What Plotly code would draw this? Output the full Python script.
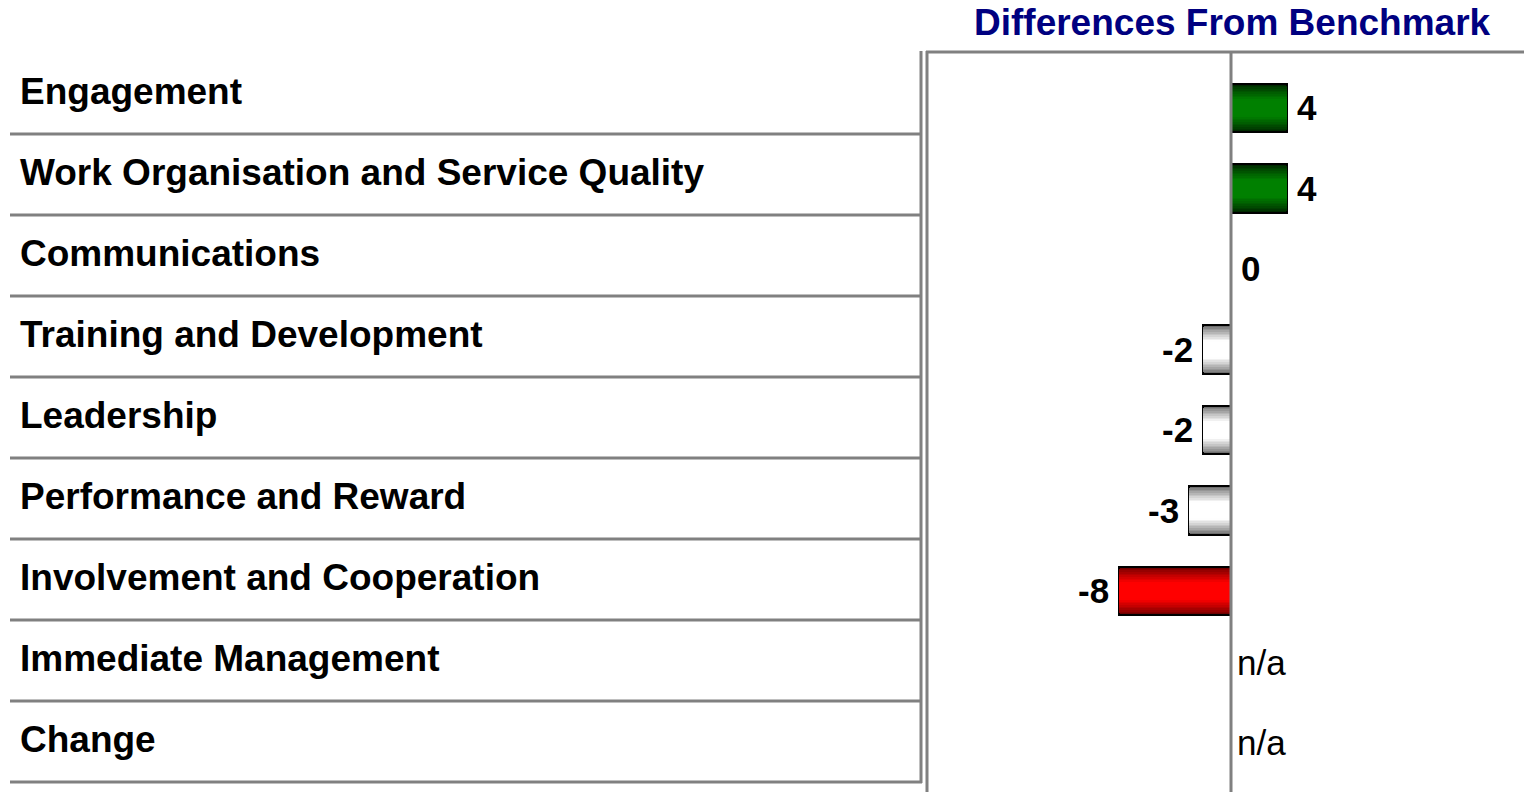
import plotly.graph_objects as go

# ---- data ----
categories = [
    "Engagement",
    "Work Organisation and Service Quality",
    "Communications",
    "Training and Development",
    "Leadership",
    "Performance and Reward",
    "Involvement and Cooperation",
    "Immediate Management",
    "Change",
]
differences = [4, 4, 0, -2, -2, -3, -8, None, None]
title_text = "Differences From Benchmark"
na_text = "n/a"

W, H = 1524, 792
FONT = "Liberation Sans, Arial, sans-serif"


def X(px):
    return px / W


def Y(py):
    return 1 - py / H


def mix(c1, c2, t):
    return "#%02x%02x%02x" % tuple(int(round(a + (b - a) * t)) for a, b in zip(c1, c2))


def palette(v):
    # (edge colour, centre colour)
    if v >= 3:
        return (0, 40, 0), (0, 128, 0)
    if v <= -5:
        return (110, 0, 0), (255, 0, 0)
    return (110, 110, 110), (255, 255, 255)


fig = go.Figure()

# layered bars to emulate the cylindrical shading
bar_y = [c for c, v in zip(categories, differences) if v is not None]
bar_x = [v for v in differences if v is not None]
n_layers = 14
full_w = 0.6
for k in range(n_layers):
    f = k / (n_layers - 1)
    w = full_w * (1 - f * 0.9)
    t = min(1.0, f / 0.7) ** 0.85
    cols = [mix(*palette(v), t) for v in bar_x]
    fig.add_trace(go.Bar(
        y=bar_y, x=bar_x, orientation="h", width=w,
        marker=dict(color=cols,
                    line=dict(color="#000000", width=2 if k == 0 else 0)),
        hoverinfo="skip", showlegend=False,
    ))

# value labels
for c, v in zip(categories, differences):
    if v is None:
        fig.add_annotation(x=0, y=c, xref="x", yref="y", text=na_text,
                           showarrow=False, xanchor="left", yanchor="middle",
                           xshift=4, yshift=9,
                           font=dict(family=FONT, size=35, color="#000000"))
    elif v >= 0:
        fig.add_annotation(x=v, y=c, xref="x", yref="y", text="<b>%d</b>" % v,
                           showarrow=False, xanchor="left", yanchor="middle",
                           xshift=8,
                           font=dict(family=FONT, size=35, color="#000000"))
    else:
        fig.add_annotation(x=v, y=c, xref="x", yref="y", text="<b>%d</b>" % v,
                           showarrow=False, xanchor="right", yanchor="middle",
                           xshift=-8,
                           font=dict(family=FONT, size=35, color="#000000"))

# left table labels and separators
top_px, row_h = 53, 81
shapes = []
for i, c in enumerate(categories):
    cy = top_px + row_h * (i + 0.5)
    fig.add_annotation(x=X(18), y=Y(cy - 2), xref="paper", yref="paper", text="<b>%s</b>" % c,
                       showarrow=False, xanchor="left", yanchor="middle",
                       font=dict(family=FONT, size=37, color="#000000"))
    by = top_px + row_h * (i + 1)
    shapes.append(dict(type="line", xref="paper", yref="paper",
                       x0=X(10), x1=X(922), y0=Y(by), y1=Y(by),
                       line=dict(color="#808080", width=3)))

# vertical lines
shapes.append(dict(type="line", xref="paper", yref="paper", x0=X(921), x1=X(921),
                   y0=Y(51), y1=Y(783), line=dict(color="#808080", width=3)))
shapes.append(dict(type="line", xref="paper", yref="paper", x0=X(927), x1=X(927),
                   y0=Y(51), y1=Y(792), line=dict(color="#808080", width=3)))
# top line of the chart panel
shapes.append(dict(type="line", xref="paper", yref="paper", x0=X(926), x1=1,
                   y0=Y(52), y1=Y(52), line=dict(color="#808080", width=3)))
# zero line
shapes.append(dict(type="line", xref="x", yref="paper", x0=0, x1=0,
                   y0=0, y1=Y(52), line=dict(color="#808080", width=3)))

fig.add_annotation(x=X(1232), y=Y(22), xref="paper", yref="paper",
                   text="<b>%s</b>" % title_text, showarrow=False,
                   xanchor="center", yanchor="middle",
                   font=dict(family=FONT, size=37, color="#000080"))

zero_px = 1231
scale = 14.0
fig.update_layout(
    width=W, height=H, autosize=False,
    margin=dict(l=0, r=0, t=0, b=0, pad=0),
    paper_bgcolor="#ffffff", plot_bgcolor="#ffffff",
    barmode="overlay", bargap=0,
    shapes=shapes,
    xaxis=dict(domain=[X(928), 1], range=[(928 - zero_px) / scale, (W - zero_px) / scale],
               showgrid=False, zeroline=False, showticklabels=False, ticks="", showline=False,
               fixedrange=True),
    yaxis=dict(domain=[0, Y(53)], type="category", categoryorder="array", categoryarray=categories,
               range=[8.497, -0.683], showgrid=False, zeroline=False, showticklabels=False,
               ticks="", showline=False, fixedrange=True),
)

fig.write_html(
    "out.html",
    config={"displayModeBar": False},
    post_script="document.body.style.margin='0px';document.body.style.overflow='hidden';",
)
